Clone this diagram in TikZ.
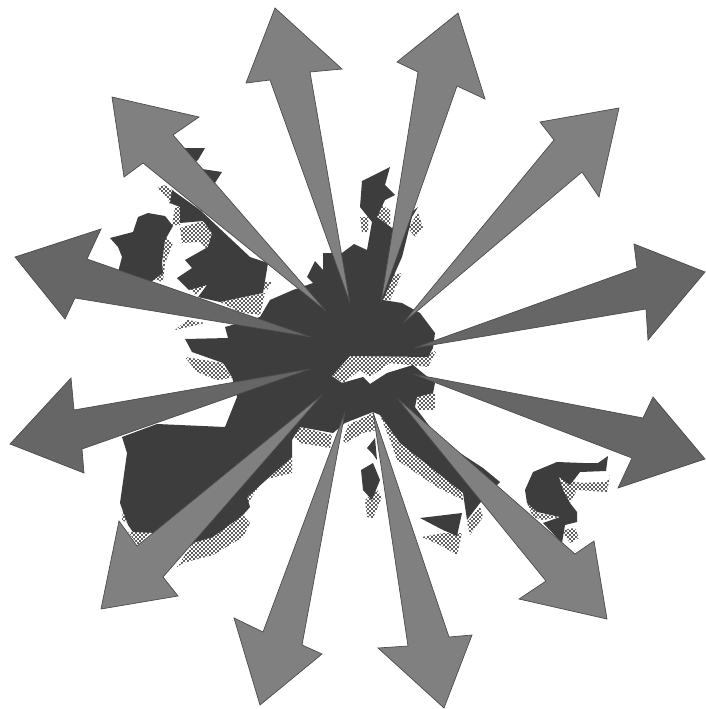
\documentclass[tikz,border=0pt]{standalone}
\usepackage{xcolor}
\usetikzlibrary{patterns}
\definecolor{landdark}{gray}{0.24}
\definecolor{raygrey}{gray}{0.50}
\definecolor{raydark}{gray}{0.40}
\pgfdeclarepatternformonly{stipple}{\pgfqpoint{-1pt}{-1pt}}{\pgfqpoint{3pt}{3pt}}{\pgfqpoint{4pt}{4pt}}{
  \pgfpathcircle{\pgfqpoint{0pt}{0pt}}{1.1pt}
  \pgfpathcircle{\pgfqpoint{2pt}{2pt}}{1.1pt}
  \pgfusepath{fill}
}
\begin{document}
\begin{tikzpicture}[x=1pt, y=-1pt,
    land/.style={fill=landdark},
    shade/.style={pattern=stipple, pattern color=black!85},
    ray/.style={fill=raygrey, draw=black!70, line width=.7pt, line join=miter},
    raydeep/.style={ray, fill=raydark}]
  \useasboundingbox (0,0) rectangle (705,709);

  \fill[shade] (378,203) -- (390,210) -- (390,225) -- (377,220) -- cycle;
  \fill[shade] (360,217) -- (368,217) -- (368,232) -- (362,232) -- cycle;
  \fill[shade] (418,213) -- (423,228) -- (415,237) -- (408,228) -- cycle;
  \fill[shade] (393,275) -- (402,273) -- (390,300) -- (383,300) -- cycle;
  \fill[shade] (157,188) -- (165,185) -- (174,191) -- (170,204) -- (167,197) -- cycle;
  \fill[shade] (175,207) -- (180,207) -- (180,225) -- (172,225) -- cycle;
  \fill[shade] (180,228) -- (203,221) -- (212,233) -- (208,250) -- (200,242) -- (182,243) -- cycle;
  \fill[shade] (165,237) -- (173,243) -- (165,263) -- (163,282) -- (145,277) -- (162,272) -- cycle;
  \fill[shade] (188,287) -- (207,285) -- (195,295) -- cycle;
  \fill[shade] (220,302) -- (265,293) -- (260,315) -- (240,312) -- cycle;
  \fill[shade] (258,282) -- (272,282) -- (267,290) -- (260,288) -- cycle;
  \fill[shade] (175,330) -- (187,320) -- (205,323) -- cycle;
  \fill[shade] (185,357) -- (222,363) -- (232,378) -- (217,380) -- (197,372) -- cycle;
  \fill[shade] (350,356) -- (423,357) -- (437,350) -- (428,367) -- (390,363) -- (370,377) -- (360,370) -- (343,383) -- (332,375) -- cycle;
  \fill[shade] (417,395) -- (435,392) -- (435,410) -- (418,410) -- cycle;
  \fill[shade] (343,440) -- (348,425) -- (373,413) -- (377,430) -- (363,433) -- (345,443) -- cycle;
  \fill[shade] (292,435) -- (300,427) -- (332,435) -- (330,448) -- (313,445) -- (300,443) -- cycle;
  \fill[shade] (292,457) -- (292,473) -- (263,480) -- (248,503) -- (243,497) -- cycle;
  \fill[shade] (250,523) -- (243,537) -- (213,555) -- (183,563) -- (177,567) -- (193,543) -- (243,515) -- cycle;
  \fill[shade] (123,508) -- (128,510) -- (128,523) -- (122,520) -- cycle;
  \fill[shade] (128,532) -- (152,531) -- (138,545) -- cycle;
  \fill[shade] (380,415) -- (400,443) -- (460,482) -- (463,500) -- (437,487) -- (397,460) -- (390,440) -- cycle;
  \fill[shade] (480,507) -- (483,517) -- (470,535) -- (467,522) -- cycle;
  \fill[shade] (422,537) -- (443,533) -- (462,533) -- (457,555) -- (440,545) -- cycle;
  \fill[shade] (365,500) -- (377,490) -- (382,497) -- (373,518) -- (367,517) -- cycle;
  \fill[shade] (560,477) -- (580,483) -- (607,482) -- (610,475) -- (607,492) -- (577,490) -- (570,503) -- (563,497) -- cycle;
  \fill[shade] (527,503) -- (537,513) -- (560,517) -- (543,520) -- (533,517) -- cycle;
  \fill[shade] (562,530) -- (575,528) -- (579,538) -- (570,543) -- cycle;

  \fill[land] (390,167) -- (385,185) -- (395,195) -- (385,200) -- (377,217) -- (392,228)
    -- (418,207) -- (412,217) -- (402,257) -- (383,300) -- (402,303) -- (420,313) -- (435,333)
    -- (433,348) -- (428,357) -- (350,356) -- (332,376) -- (342,383) -- (363,377) -- (370,384)
    -- (387,373) -- (413,365) -- (435,383) -- (433,393) -- (417,397) -- (415,407) -- (440,440)
    -- (483,468) -- (500,482) -- (480,503) -- (467,520) -- (463,493) -- (400,443) -- (380,415)
    -- (373,412) -- (345,423) -- (333,433) -- (300,427) -- (292,440) -- (292,457) -- (247,497)
    -- (250,507) -- (243,515) -- (213,537) -- (193,543) -- (173,563) -- (157,533) -- (133,532)
    -- (128,525) -- (120,503) -- (127,453) -- (122,437) -- (157,424) -- (225,427) -- (237,397)
    -- (232,377) -- (223,363) -- (192,352) -- (185,339) -- (228,338) -- (225,327) -- (260,317)
    -- (270,300) -- (293,290) -- (313,283) -- (307,277) -- (315,261) -- (323,270) -- (323,253)
    -- (342,253) -- (354,244) -- (367,250) -- (372,222) -- (360,207) -- (362,181) -- cycle;
  \fill[land] (172,190) -- (170,203) -- (180,207) -- (180,223) -- (203,221) -- (212,233)
    -- (208,247) -- (185,260) -- (192,268) -- (177,278) -- (189,290) -- (207,285) -- (198,297)
    -- (220,302) -- (263,293) -- (268,263) -- (250,257) -- (200,210) -- cycle;
  \fill[land] (138,217) -- (148,213) -- (165,216) -- (173,226) -- (165,240) -- (162,263)
    -- (163,273) -- (147,285) -- (118,272) -- (122,257) -- (118,247) -- (110,238) -- (133,232) -- cycle;
  \fill[land] (185,148) -- (205,148) -- (198,160) -- (190,165) -- cycle;
  \fill[land] (202,169) -- (222,172) -- (215,183) -- (205,180) -- cycle;
  \fill[land] (420,518) -- (462,513) -- (457,536) -- (443,530) -- cycle;
  \fill[land] (367,448) -- (375,438) -- (377,460) -- (372,453) -- cycle;
  \fill[land] (361,470) -- (373,463) -- (380,480) -- (372,500) -- (363,490) -- cycle;
  \fill[land] (533,472) -- (557,462) -- (583,463) -- (598,463) -- (608,456) -- (606,471) -- (580,472)
    -- (570,485) -- (559,477) -- (563,490) -- (570,503) -- (577,512) -- (577,522) -- (565,525)
    -- (562,543) -- (543,523) -- (560,517) -- (537,512) -- (527,503) -- (525,490) -- cycle;

  \draw[ray] (350,303) -- (270,80) -- (246,83) -- (275,8) -- (342,69) -- (310,72) -- cycle;
  \draw[ray] (381,302) -- (418,72) -- (397,62) -- (458,13) -- (485,99) -- (457,86) -- cycle;
  \draw[ray] (403,323) -- (554,140) -- (540,122) -- (619,108) -- (599,197) -- (582,172) -- cycle;
  \draw[raydeep] (414,348) -- (637,268) -- (634,244) -- (705,272) -- (648,340) -- (646,309) -- cycle;
  \draw[raydeep] (413,374) -- (643,418) -- (653,397) -- (705,459) -- (618,488) -- (632,458) -- cycle;
  \draw[ray] (397,398) -- (575,554) -- (594,541) -- (607,619) -- (519,599) -- (546,581) -- cycle;
  \draw[ray] (373,412) -- (449,637) -- (472,635) -- (444,708) -- (378,648) -- (408,646) -- cycle;
  \draw[ray] (345,412) -- (302,645) -- (322,654) -- (260,705) -- (234,618) -- (263,632) -- cycle;
  \draw[ray] (322,395) -- (137,546) -- (119,521) -- (101,609) -- (178,596) -- (163,577) -- cycle;
  \draw[raydeep] (310,369) -- (74,410) -- (71,378) -- (10,444) -- (84,473) -- (82,449) -- cycle;
  \draw[raydeep] (311,337) -- (87,259) -- (101,229) -- (15,257) -- (65,319) -- (75,298) -- cycle;
  \draw[ray] (326,311) -- (143,163) -- (124,177) -- (112,97) -- (199,117) -- (173,135) -- cycle;
\end{tikzpicture}
\end{document}
